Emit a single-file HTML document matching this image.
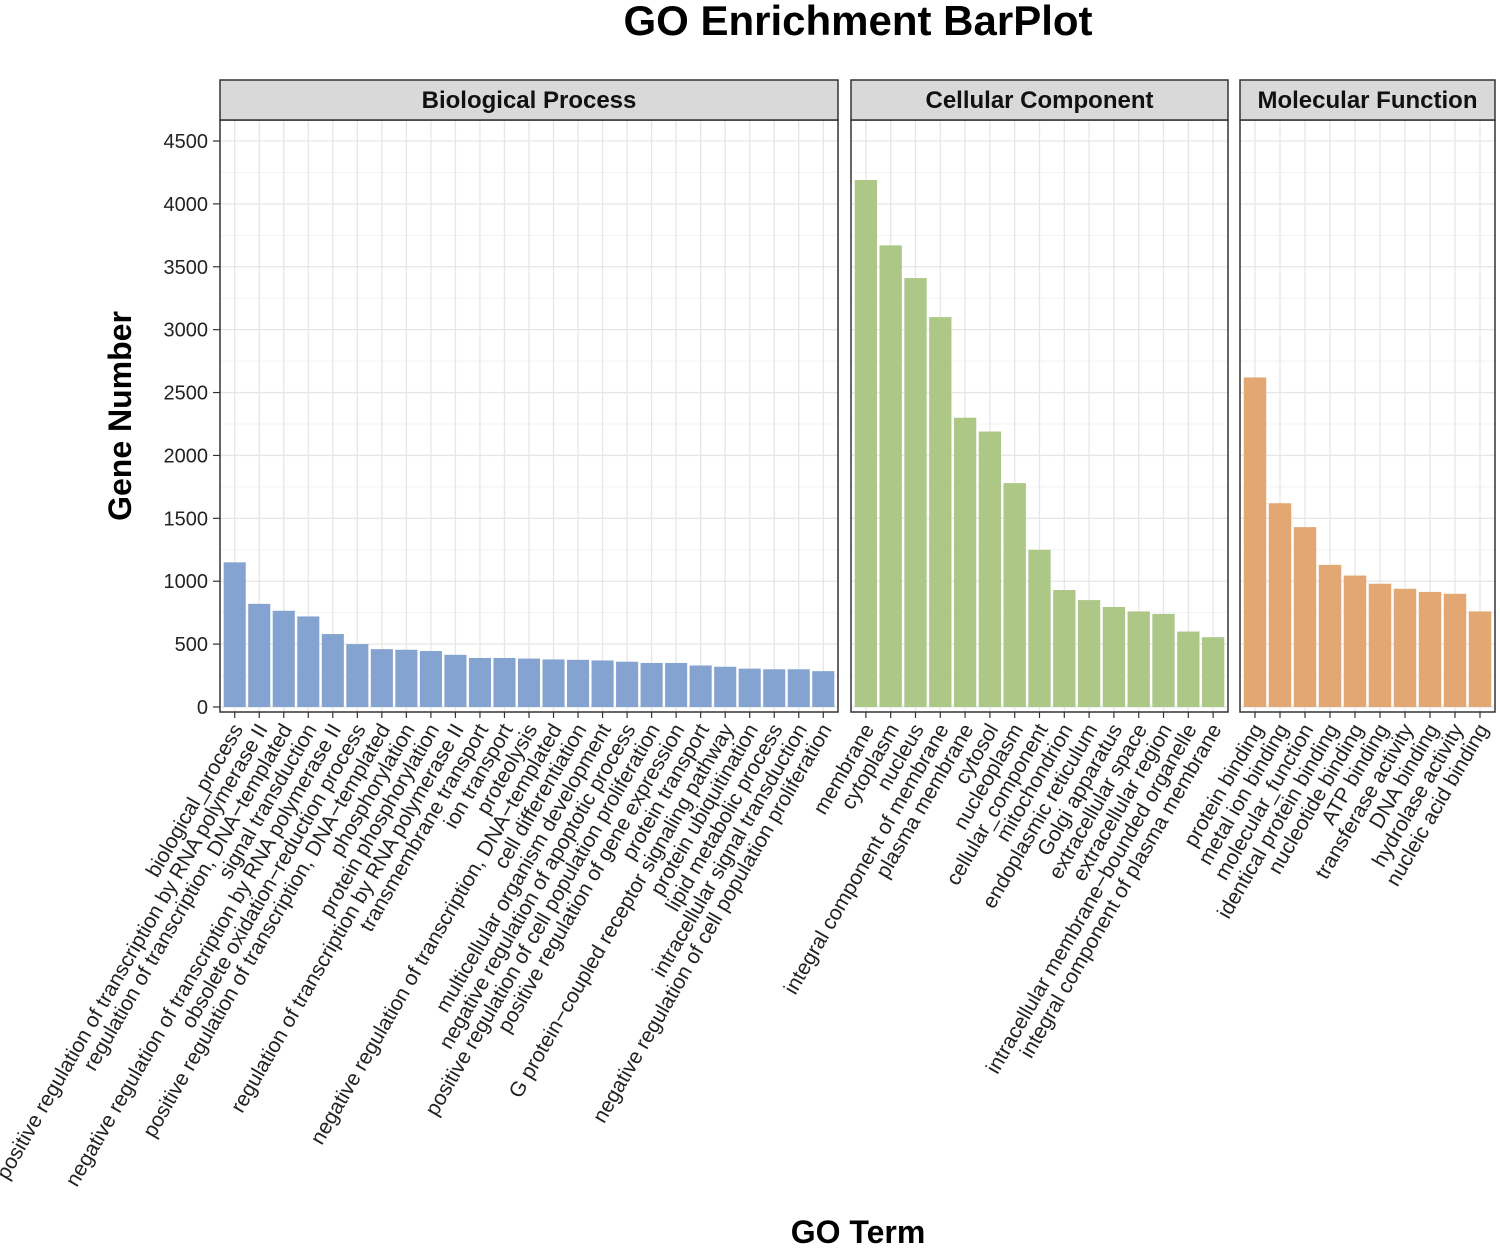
<!DOCTYPE html>
<html><head><meta charset="utf-8"><style>
body{margin:0;background:#fff;}
svg{display:block;font-family:"Liberation Sans",Arial,sans-serif;}
</style></head><body>
<svg id="chart" width="1500" height="1248">
<text x="858" y="35" text-anchor="middle" font-size="42" font-weight="bold">GO Enrichment BarPlot</text>
<text transform="translate(131,416) rotate(-90)" text-anchor="middle" font-size="32" font-weight="bold">Gene Number</text>
<text x="858" y="1243" text-anchor="middle" font-size="32" font-weight="bold">GO Term</text>
</svg>
<script>
const bpTerms=["biological_process","positive regulation of transcription by RNA polymerase II","regulation of transcription, DNA−templated","signal transduction","negative regulation of transcription by RNA polymerase II","obsolete oxidation−reduction process","positive regulation of transcription, DNA−templated","phosphorylation","protein phosphorylation","regulation of transcription by RNA polymerase II","transmembrane transport","ion transport","proteolysis","negative regulation of transcription, DNA−templated","cell differentiation","multicellular organism development","negative regulation of apoptotic process","positive regulation of cell population proliferation","positive regulation of gene expression","protein transport","G protein−coupled receptor signaling pathway","protein ubiquitination","lipid metabolic process","intracellular signal transduction","negative regulation of cell population proliferation"];
const bpValues=[1150,820,765,720,580,500,460,455,445,415,390,390,385,378,375,370,360,350,350,330,320,305,300,300,285];
const ccTerms=["membrane","cytoplasm","nucleus","integral component of membrane","plasma membrane","cytosol","nucleoplasm","cellular_component","mitochondrion","endoplasmic reticulum","Golgi apparatus","extracellular space","extracellular region","intracellular membrane−bounded organelle","integral component of plasma membrane"];
const ccValues=[4190,3670,3410,3100,2300,2190,1780,1250,930,850,795,760,740,600,555];
const mfTerms=["protein binding","metal ion binding","molecular_function","identical protein binding","nucleotide binding","ATP binding","transferase activity","DNA binding","hydrolase activity","nucleic acid binding"];
const mfValues=[2620,1620,1430,1130,1045,980,940,915,900,760];
const yTicks=[0,500,1000,1500,2000,2500,3000,3500,4000,4500];
const panelNames=["Biological Process","Cellular Component","Molecular Function"];

const NS="http://www.w3.org/2000/svg";
const svg=document.getElementById('chart');
function mk(tag,attrs,parent){const e=document.createElementNS(NS,tag);for(const k in attrs)e.setAttribute(k,attrs[k]);(parent||svg).appendChild(e);return e;}
const yTop=120,yBot=712;
function yScale(v){return 707-v*0.12578;}
const panels=[
 {x0:220,x1:838,terms:bpTerms,vals:bpValues,color:"#85a3d1",key:"bp"},
 {x0:851,x1:1228,terms:ccTerms,vals:ccValues,color:"#adc787",key:"cc"},
 {x0:1240,x1:1495,terms:mfTerms,vals:mfValues,color:"#e2a773",key:"mf"}];
yTicks.forEach(t=>{
 const y=yScale(t);
 const tl=mk('text',{x:208,y:y+7,'text-anchor':'end','font-size':20,fill:'#222'});
 
 
 tl.textContent=t;
 mk('line',{x1:213,x2:220,y1:y,y2:y,stroke:'#333','stroke-width':1.2});
});
panels.forEach((p,pi)=>{
 const g=mk('g',{});
 
 
 const n=p.vals.length, w=p.x1-p.x0, step=w/(n+0.2);
 const xc=i=>p.x0+step*(0.6+i);
 mk('rect',{x:p.x0,y:yTop,width:w,height:yBot-yTop,fill:'#fff'},g);
 for(let v=250;v<=4500;v+=500){mk('line',{x1:p.x0,x2:p.x1,y1:yScale(v),y2:yScale(v),stroke:'#f3f3f3','stroke-width':1},g);}
 yTicks.forEach(t=>mk('line',{x1:p.x0,x2:p.x1,y1:yScale(t),y2:yScale(t),stroke:'#e6e6e6','stroke-width':1.3},g));
 for(let i=0;i<n;i++)mk('line',{x1:xc(i),x2:xc(i),y1:yTop,y2:yBot,stroke:'#e6e6e6','stroke-width':1.3},g);
 p.vals.forEach((v,i)=>{
  const r=mk('rect',{x:xc(i)-step*0.45,y:yScale(v),width:step*0.9,height:yScale(0)-yScale(v),fill:p.color},g);
  
  
 });
 mk('rect',{x:p.x0,y:yTop,width:w,height:yBot-yTop,fill:'none',stroke:'#333','stroke-width':1.5},g);
 const s=mk('rect',{x:p.x0,y:80,width:w,height:40,fill:'#d9d9d9',stroke:'#333','stroke-width':1.5},g);
 
 
 const st=mk('text',{x:p.x0+w/2,y:108,'text-anchor':'middle','font-size':24,'font-weight':'bold',fill:'#111'},g);
 
 
 st.textContent=panelNames[pi];
 p.terms.forEach((t,i)=>{
  const x=xc(i);
  mk('line',{x1:x,x2:x,y1:yBot,y2:yBot+6,stroke:'#333','stroke-width':1.2},g);
  const tl=mk('text',{transform:`translate(${x+9},${yBot+17}) rotate(-60)`,'text-anchor':'end','font-size':21,fill:'#222'},g);
  
  
  tl.textContent=t;
 });
});
</script>
</body></html>
